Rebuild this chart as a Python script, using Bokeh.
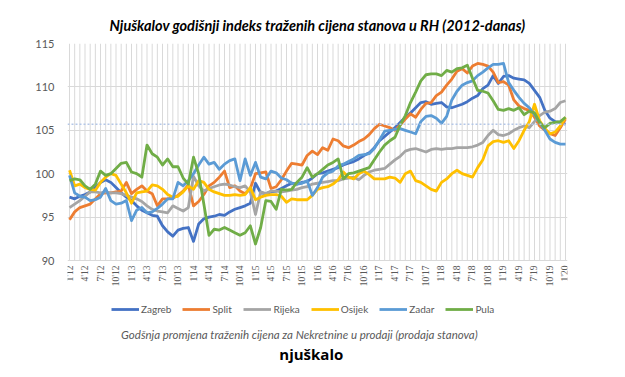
import math
from bokeh.plotting import figure
from bokeh.models import Range1d, FixedTicker, Span, Legend, LegendItem, Title
from bokeh.core.properties import value
from bokeh.embed import file_html
from bokeh.resources import INLINE

tick_labels = ["1'12", "4'12", "7'12", "10'12", "1'13", "4'13", "7'13", "10'13",
               "1'14", "4'14", "7'14", "10'14", "1'15", "4'15", "7'15", "10'15",
               "1'16", "4'16", "7'16", "10'16", "1'17", "4'17", "7'17", "10'17",
               "1'18", "4'18", "7'18", "10'18", "1'19", "4'19", "7'19", "10'19", "1'20"]

zagreb = [97.3, 97.1, 97.4, 97.6, 97.9, 98.4, 99.0, 99.3, 99.0, 98.4, 97.8, 97.3, 96.9,
          96.3, 95.8, 95.5, 95.2, 95.1, 94.0, 93.3, 92.8, 93.5, 93.7, 93.8, 92.2,
          94.2, 94.8, 95.0, 95.1, 95.3, 95.2, 95.6, 95.9, 96.1, 96.3, 96.6, 98.9,
          97.8, 97.7, 97.9, 98.0, 98.3, 98.6, 98.9, 98.8, 99.0, 99.1, 99.5, 100.0,
          100.1, 100.3, 100.5, 100.7, 101.0, 101.2, 101.4, 101.7, 102.1, 102.4, 103.0, 103.8,
          104.3, 104.8, 105.3, 105.9, 106.5, 107.0, 107.6, 108.2, 108.3, 108.0, 108.1, 108.2,
          107.7, 107.6, 107.8, 108.0, 108.3, 108.7, 109.0, 109.8, 110.2, 111.3, 110.4, 111.2,
          111.3, 111.0, 110.9, 110.8, 110.4, 109.6, 108.8, 107.3, 106.4, 106.0, 105.9, 105.7]

split = [94.7, 95.6, 96.1, 96.3, 96.5, 97.1, 97.7, 97.8, 97.8, 97.9, 98.0, 99.0, 97.7,
         98.2, 98.6, 98.0, 97.7, 96.3, 97.1, 97.1, 97.2, 97.5, 98.0, 98.7, 96.3,
         96.8, 97.6, 98.6, 99.0, 99.6, 100.3, 98.4, 98.6, 98.0, 97.7, 98.3, 100.0,
         100.1, 100.2, 98.3, 98.5, 99.3, 100.3, 101.2, 101.1, 101.0, 102.1, 102.6, 102.2,
         103.0, 102.7, 104.0, 103.8, 103.2, 103.0, 103.3, 103.7, 104.0, 104.5, 105.2, 105.7,
         105.5, 105.3, 105.0, 105.6, 106.3, 106.9, 106.5, 107.4, 108.1, 108.2, 109.0, 109.4,
         110.2, 110.9, 111.8, 112.1, 111.6, 112.4, 112.7, 112.6, 112.4, 111.7, 110.5, 110.6,
         110.2, 108.5, 107.8, 107.5, 107.3, 106.5, 105.5, 105.0, 104.6, 104.4, 105.3, 106.3]

rijeka = [96.1, 96.5, 96.9, 97.4, 97.9, 97.9, 97.8, 97.9, 97.8, 97.8, 97.7, 97.5, 97.3,
          97.1, 96.8, 96.3, 95.9, 95.7, 95.6, 95.5, 96.3, 96.0, 95.7, 96.1, 99.7,
          98.6, 98.0, 98.3, 98.5, 98.7, 98.8, 98.7, 98.5, 98.4, 98.6, 97.9, 95.3,
          97.9, 97.7, 98.0, 98.0, 97.9, 98.0, 98.1, 98.2, 98.4, 98.5, 98.8, 98.9,
          99.0, 99.1, 99.2, 99.2, 99.4, 99.5, 99.6, 99.3, 99.8, 100.2, 100.4, 100.5,
          100.6, 101.1, 101.6, 102.0, 102.6, 102.8, 102.9, 102.7, 102.5, 102.8, 102.9, 102.8,
          102.9, 102.9, 103.0, 103.0, 103.0, 103.1, 103.3, 103.6, 104.4, 105.0, 104.5, 104.4,
          104.6, 105.0, 105.3, 105.5, 105.3, 106.0, 106.7, 107.1, 107.2, 107.5, 108.2, 108.4]

osijek = [100.4, 98.6, 98.8, 98.4, 98.2, 98.1, 99.0, 99.6, 100.0, 99.8, 98.8, 97.8, 96.6,
          97.8, 97.9, 98.0, 98.7, 98.6, 98.2, 97.6, 97.3, 97.4, 97.9, 98.6, 98.2,
          99.2, 99.0, 98.2, 97.9, 97.7, 97.5, 97.5, 97.6, 97.5, 97.6, 98.4, 97.0,
          97.3, 97.5, 97.6, 97.6, 97.4, 96.7, 97.1, 97.0, 97.0, 97.0, 97.5, 98.2,
          98.4, 98.5, 98.8, 99.3, 100.2, 99.6, 99.4, 100.0, 100.3, 99.9, 99.4, 99.4,
          99.4, 99.6, 99.5, 99.0, 100.0, 100.3, 99.2, 99.0, 98.6, 98.2, 98.0, 99.0,
          99.4, 100.0, 100.4, 100.0, 99.8, 99.6, 100.7, 101.6, 103.2, 103.7, 103.8, 103.6,
          103.8, 102.9, 103.8, 105.0, 106.0, 108.0, 106.1, 105.2, 104.6, 104.8, 105.5, 106.5]

zadar = [99.8, 97.8, 97.4, 97.3, 96.9, 97.0, 97.3, 98.3, 96.9, 96.5, 96.6, 96.9, 94.6,
         95.8, 96.1, 95.5, 95.6, 96.0, 96.5, 97.1, 97.1, 99.0, 98.6, 99.2, 100.0,
         101.0, 101.9, 101.1, 101.3, 100.5, 101.1, 101.5, 101.7, 99.2, 101.7, 99.8, 101.3,
         99.6, 99.4, 100.3, 100.1, 99.5, 99.3, 98.9, 98.8, 98.9, 99.2, 97.5, 98.4,
         99.6, 100.1, 100.3, 100.9, 101.1, 101.4, 101.7, 102.1, 102.2, 102.3, 102.9, 103.9,
         104.9, 105.0, 105.1, 105.2, 105.0, 104.8, 104.6, 106.0, 106.6, 106.7, 106.4, 105.8,
         106.6, 108.5, 109.5, 110.2, 110.5, 110.7, 111.3, 111.7, 112.2, 112.6, 112.6, 112.7,
         110.5, 109.6, 108.8, 108.1, 107.6, 106.8, 105.9, 105.0, 104.0, 103.6, 103.4, 103.4]

pula = [99.2, 99.4, 99.3, 98.6, 98.2, 98.8, 100.3, 99.8, 100.0, 100.6, 101.2, 101.3, 100.2,
        100.0, 99.6, 103.3, 102.3, 101.9, 101.0, 101.7, 100.8, 100.8, 99.5, 98.8, 101.9,
        100.0, 96.5, 92.9, 93.6, 93.5, 93.8, 93.5, 93.2, 92.9, 93.2, 94.0, 91.9,
        93.8, 96.9, 96.8, 95.9, 98.2, 98.1, 98.2, 99.0, 99.6, 100.7, 99.6, 100.0,
        100.5, 101.0, 101.3, 101.7, 99.4, 100.0, 100.1, 100.3, 100.5, 100.7, 101.6, 102.5,
        103.3, 103.8, 104.2, 105.6, 106.7, 108.2, 109.4, 110.7, 111.4, 111.5, 111.5, 111.3,
        111.9, 111.7, 112.1, 112.2, 112.5, 111.0, 109.6, 109.5, 109.3, 108.4, 107.4, 107.3,
        107.5, 107.3, 107.6, 106.8, 107.2, 107.0, 105.9, 105.3, 105.8, 105.9, 106.0, 106.5]

series_names = ["Zagreb", "Split", "Rijeka", "Osijek", "Zadar", "Pula"]
series_values = [zagreb, split, rijeka, osijek, zadar, pula]
series_colors = ["#4472C4", "#ED7D31", "#A5A5A5", "#FFC000", "#5B9BD5", "#70AD47"]
y_ticks = [90, 95, 100, 105, 110, 115]
reference_level = 105.7

n = len(zagreb)
x = list(range(n))
y_min, y_max = y_ticks[0], y_ticks[-1]

# layout: the value axis occupies the top 217 px of a taller frame; the space
# under it holds the month labels, the legend and the footer texts
plot_px = 217
frame_px = 327
units_per_px = (y_max - y_min) / plot_px
y_start = y_max - frame_px * units_per_px

def below(px):
    """value-axis coordinate that lies px pixels under the bottom gridline"""
    return y_min - px * units_per_px

p = figure(frame_width=500, frame_height=frame_px, output_backend="svg", toolbar_location=None,
           x_range=Range1d(-0.39, n - 1 + 0.39), y_range=Range1d(y_start, y_max),
           x_axis_location=None,
           min_border_left=67, min_border_right=58, min_border_top=43, min_border_bottom=0)
p.outline_line_color = None
p.background_fill_color = "white"

p.ygrid.ticker = FixedTicker(ticks=y_ticks)
p.ygrid.grid_line_color = "#D9D9D9"
p.xgrid.grid_line_color = None

# month gridlines only across the value area
p.segment(x0=x, y0=[y_min] * n, x1=x, y1=[y_max] * n, line_color="#D9D9D9", line_width=1)

p.yaxis.ticker = FixedTicker(ticks=y_ticks)
p.yaxis.axis_line_color = None
p.yaxis.major_tick_line_color = None
p.yaxis.minor_tick_line_color = None
p.yaxis.major_label_text_font = "Lato"
p.yaxis.major_label_text_font_size = "11px"
p.yaxis.major_label_text_color = "#595959"
p.yaxis.major_label_standoff = 7

tick_pos = list(range(0, n, 3))
p.text(x=tick_pos, y=[below(5)] * len(tick_pos), text=tick_labels, angle=math.pi / 2,
       text_align="right", text_baseline="middle", text_font=value("Liberation Serif"),
       text_font_size="9.5px", text_color="#595959")

p.add_layout(Span(location=reference_level, dimension="width", line_color="#B4C7E7",
                  line_dash="2 2", line_width=1.5))

items = []
for name, vals, col in zip(series_names, series_values, series_colors):
    r = p.line(x, vals, line_color=col, line_width=2.8, line_join="round")
    items.append(LegendItem(label=name, renderers=[r]))

legend = Legend(items=items, orientation="horizontal", location=(44, 55),
                label_text_font="Lato", label_text_font_size="10px",
                label_text_color="#595959", glyph_width=28, glyph_height=10,
                label_standoff=2, spacing=11, padding=2, margin=0,
                border_line_color=None, background_fill_alpha=0)
p.add_layout(legend)

title = Title(text="Njuškalov godišnji indeks traženih cijena stanova u RH (2012-danas)",
              align="center", text_font="Lato", text_font_size="14.5px",
              text_font_style="bold italic", text_color="black", standoff=20, offset=-5)
p.add_layout(title, "above")

mid = (n - 1) / 2
p.text(x=[mid - 3.5], y=[below(74)],
       text=["Godšnja promjena traženih cijena za Nekretnine u prodaji (prodaja stanova)"],
       text_align="center", text_baseline="middle", text_font=value("Lato"),
       text_font_size="11.5px", text_font_style="italic", text_color="#595959")
p.text(x=[mid - 1.2], y=[below(93)], text=["njuškalo"],
       text_align="center", text_baseline="middle", text_font=value("Open Sans"),
       text_font_size="15px", text_font_style="bold", text_color="black")

open("out.html", "w").write(file_html(p, INLINE))
